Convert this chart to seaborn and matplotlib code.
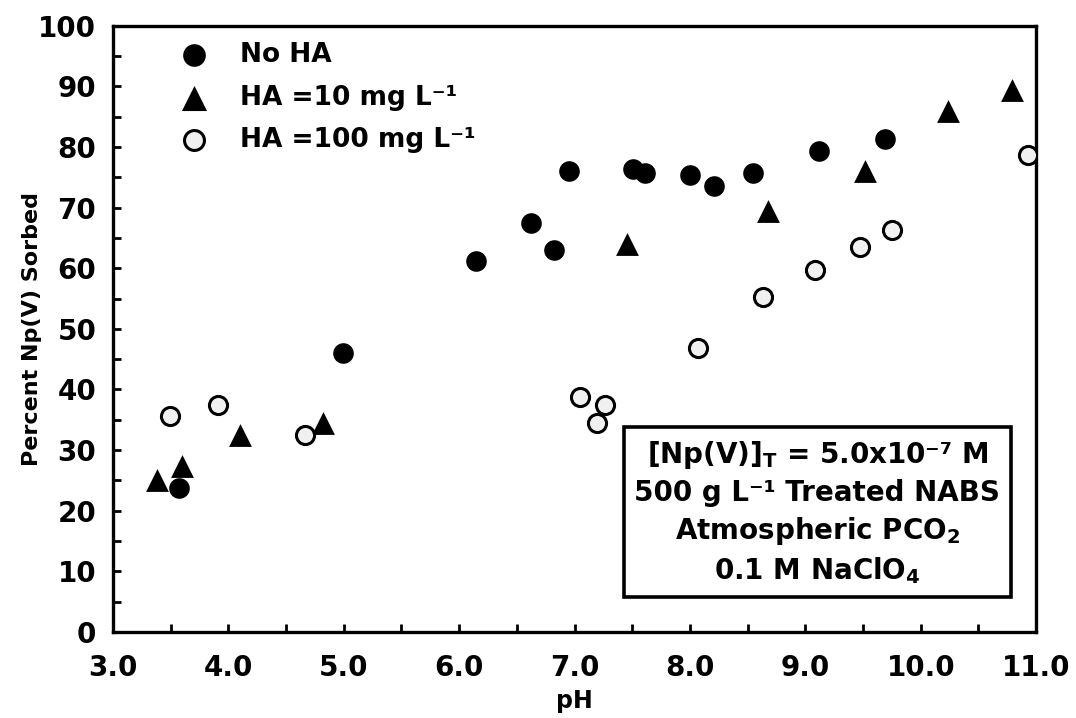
import numpy as np
import pandas as pd
import matplotlib
matplotlib.use("Agg")
import matplotlib.pyplot as plt
import seaborn as sns

# ── data ─────────────────────────────────────────────────────────────────
ph_no_ha = [3.57, 4.99, 6.15, 6.62, 6.82, 6.95, 7.51, 7.61, 8.00, 8.21, 8.55, 9.12, 9.69]
sorb_no_ha = [23.8, 46.0, 61.2, 67.4, 63.0, 76.0, 76.3, 75.7, 75.4, 73.6, 75.7, 79.3, 81.3]

ph_ha10 = [3.38, 3.60, 4.10, 4.82, 7.45, 8.68, 9.52, 10.24, 10.79]
sorb_ha10 = [25.0, 27.4, 32.4, 34.5, 64.0, 69.5, 76.0, 86.0, 89.4]

ph_ha100 = [3.49, 3.91, 4.66, 7.05, 7.19, 7.26, 8.07, 8.63, 9.08, 9.47, 9.75, 10.93]
sorb_ha100 = [35.7, 37.4, 32.4, 38.7, 34.5, 37.5, 46.9, 55.3, 59.7, 63.5, 66.3, 78.7]

x_ticks = [3.0, 4.0, 5.0, 6.0, 7.0, 8.0, 9.0, 10.0, 11.0]
y_ticks = [0, 10, 20, 30, 40, 50, 60, 70, 80, 90, 100]

box_lines = [
    r"[Np(V)]$_{T}$ = 5.0x10⁻⁷ M",
    r"500 g L⁻¹ Treated NABS",
    r"Atmospheric PCO$_{2}$",
    r"0.1 M NaClO$_{4}$",
]

# ── style ────────────────────────────────────────────────────────────────
sns.set_style("ticks")
plt.rcParams["font.family"] = ["DejaVu Sans"]
plt.rcParams["font.weight"] = "bold"
plt.rcParams["mathtext.default"] = "bf"
plt.rcParams["text.color"] = "black"
plt.rcParams["axes.labelcolor"] = "black"
plt.rcParams["xtick.color"] = "black"
plt.rcParams["ytick.color"] = "black"

fig = plt.figure(figsize=(10.76, 7.18), dpi=100)
ax = fig.add_axes([0.105, 0.120, 0.858, 0.844])

sns.scatterplot(x=ph_no_ha, y=sorb_no_ha, marker="o", s=220, color="black",
                edgecolor="black", linewidth=0, label="No HA", ax=ax, zorder=3)
sns.scatterplot(x=ph_ha10, y=sorb_ha10, marker="^", s=270, color="black",
                edgecolor="black", linewidth=0, label="HA =10 mg L⁻¹", ax=ax, zorder=3)
sns.scatterplot(x=ph_ha100, y=sorb_ha100, marker="o", s=170, color="#f0f0f0",
                edgecolor="black", linewidth=2.2, label="HA =100 mg L⁻¹", ax=ax, zorder=3)

ax.set_xlim(3.0, 11.0)
ax.set_ylim(0, 100)
ax.set_xticks(x_ticks)
ax.set_xticklabels([f"{t:.1f}" for t in x_ticks])
ax.set_yticks(y_ticks)
ax.set_xticks(np.arange(3.5, 11.0, 1.0), minor=True)
ax.set_yticks(np.arange(5, 100, 10), minor=True)
ax.tick_params(which="both", direction="in", length=6, width=2,
               labelsize=20, top=False, right=False)
ax.tick_params(axis="x", which="both", pad=16)
ax.tick_params(axis="y", which="both", pad=12)

for sp in ax.spines.values():
    sp.set_linewidth(2.4)
    sp.set_color("black")

ax.set_xlabel("pH", fontsize=17, fontweight="bold")
ax.set_ylabel("Percent Np(V) Sorbed", fontsize=16, fontweight="bold")
ax.xaxis.set_label_coords(0.5, -0.095)
ax.yaxis.set_label_coords(-0.077, 0.5)

leg = ax.legend(loc="upper left", bbox_to_anchor=(0.033, 1.012), frameon=False,
                fontsize=19, handletextpad=0.75, labelspacing=0.62, markerscale=1.1)

ax.text(0.763, 0.197, "\n".join(box_lines), transform=ax.transAxes,
        ha="center", va="center", fontsize=20, fontweight="bold",
        linespacing=1.35,
        bbox=dict(boxstyle="square,pad=0.38", facecolor="white",
                  edgecolor="black", linewidth=2.6))

fig.savefig("out.png", dpi=100)
